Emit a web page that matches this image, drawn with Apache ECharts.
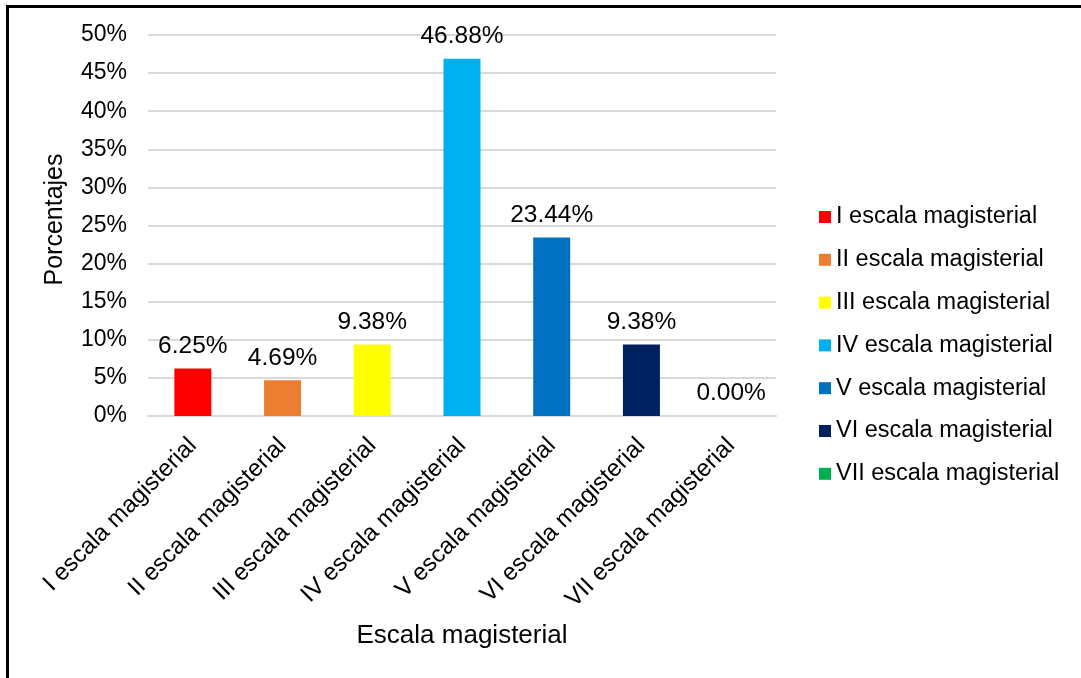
<!DOCTYPE html>
<html>
<head>
<meta charset="utf-8">
<script src="https://cdn.jsdelivr.net/npm/echarts@6/dist/echarts.min.js"></script>
<style>
  html, body { margin: 0; padding: 0; background: #fff; }
  #frame { position: absolute; left: 6px; top: 5px; width: 1075px; height: 673px;
           border-top: 3px solid #000; border-left: 3px solid #000; box-sizing: border-box; }
  #chart { position: absolute; left: 0; top: 0; width: 1081px; height: 678px; }
</style>
</head>
<body>
<div id="frame"></div>
<div id="chart"></div>
<script>
// Categories, values (percent) and bar colours
const categories = [
  'I escala magisterial', 'II escala magisterial', 'III escala magisterial',
  'IV escala magisterial', 'V escala magisterial', 'VI escala magisterial',
  'VII escala magisterial'
];
const percentages = [6.25, 4.69, 9.38, 46.88, 23.44, 9.38, 0.00];
const colors = ['#ff0000', '#ed7d31', '#ffff00', '#00b0f0', '#0070c0', '#002060', '#00b050'];
const yTicks = [0, 5, 10, 15, 20, 25, 30, 35, 40, 45, 50];

const FONT = 'Liberation Sans, Arial, sans-serif';

// One series per category so each gets its own legend entry; stacked so bars stay centred
const series = categories.map((name, i) => ({
  name: name,
  type: 'bar',
  stack: 'all',
  barWidth: 37,
  itemStyle: { color: colors[i] },
  data: percentages.map((v, j) => (j === i ? v : '-')),
  label: {
    show: true,
    position: 'top',
    distance: 10,
    color: '#000',
    fontFamily: FONT,
    fontSize: 24.5,
    formatter: p => p.value.toFixed(2) + '%'
  }
}));

const chart = echarts.init(document.getElementById('chart'));
chart.setOption({
  animation: false,
  textStyle: { fontFamily: FONT },
  grid: { left: 148, right: 305, top: 35, bottom: 262, containLabel: false },
  legend: {
    orient: 'vertical',
    left: 814,
    top: 200,
    itemGap: 18.8,
    itemWidth: 12,
    itemHeight: 12,
    icon: 'rect',
    textStyle: { fontFamily: FONT, fontSize: 23.5, lineHeight: 24, color: '#000' },
    data: categories
  },
  xAxis: {
    type: 'category',
    data: categories,
    name: 'Escala magisterial',
    nameLocation: 'middle',
    nameGap: 207,
    nameTextStyle: { fontFamily: FONT, fontSize: 26, color: '#000' },
    axisLine: { lineStyle: { color: '#d9d9d9', width: 2 } },
    axisTick: { show: false },
    axisLabel: { rotate: 45, margin: 26, fontFamily: FONT, fontSize: 24, color: '#000', interval: 0 }
  },
  yAxis: {
    type: 'value',
    min: yTicks[0],
    max: yTicks[yTicks.length - 1],
    interval: 5,
    name: 'Porcentajes',
    nameLocation: 'middle',
    nameGap: 80,
    nameRotate: 90,
    nameTextStyle: { fontFamily: FONT, fontSize: 25, color: '#000', padding: [0, 0, 0, 12] },
    axisLine: { show: false },
    axisTick: { show: false },
    splitLine: { lineStyle: { color: '#d9d9d9', width: 2 } },
    axisLabel: { margin: 21, fontFamily: FONT, fontSize: 23, color: '#000', formatter: v => v + '%' }
  },
  series: series
});
</script>
</body>
</html>
